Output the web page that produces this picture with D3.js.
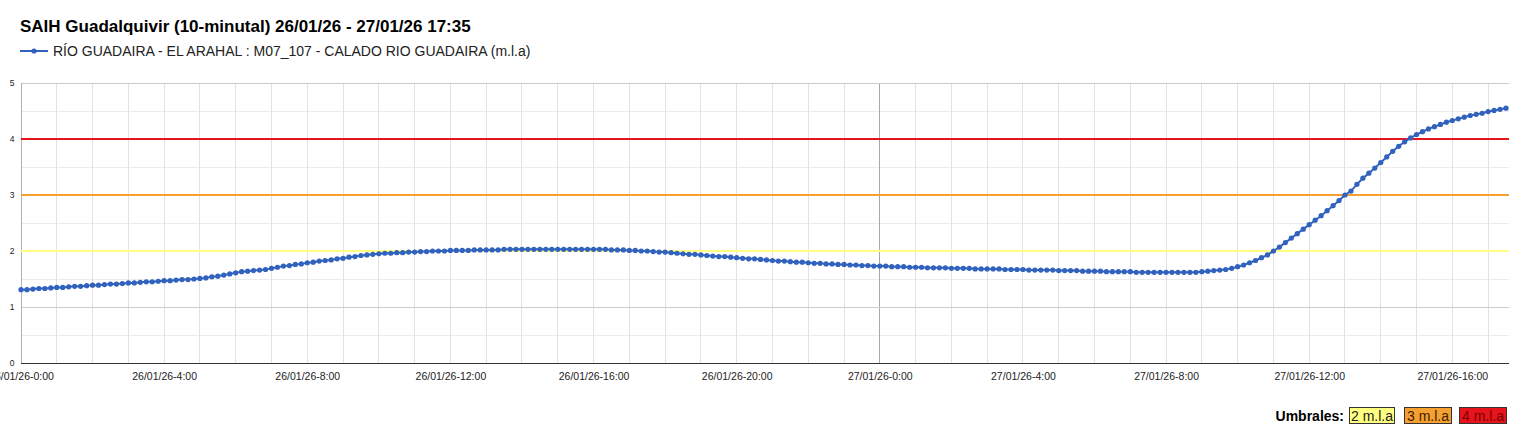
<!DOCTYPE html>
<html>
<head>
<meta charset="utf-8">
<script src="https://cdn.jsdelivr.net/npm/d3@7"></script>
<style>
  html, body { margin: 0; padding: 0; background: #fff; }
  svg { display: block; font-family: Arial, "Liberation Sans", sans-serif; }
</style>
</head>
<body>
<svg id="chart" width="1518" height="437"></svg>
<script>
// ---------------- DATA ----------------
const titleText = "SAIH Guadalquivir (10-minutal) 26/01/26 - 27/01/26 17:35";
const seriesName = "RÍO GUADAIRA - EL ARAHAL : M07_107 - CALADO RIO GUADAIRA (m.l.a)";
const startTime = "2026-01-26T00:00";
const endTime = "2026-01-27T17:35";
const stepMinutes = 10;
// water level (m.l.a), one value every 10 minutes from 26/01/26 0:00
const levels = [
  1.31,1.31,1.32,1.33,1.33,1.34,   // 0h
  1.35,1.35,1.36,1.37,1.37,1.38,   // 1h
  1.39,1.39,1.40,1.41,1.41,1.42,   // 2h
  1.43,1.43,1.44,1.45,1.45,1.46,   // 3h
  1.47,1.47,1.48,1.49,1.49,1.50,   // 4h
  1.51,1.52,1.54,1.55,1.57,1.59,   // 5h
  1.61,1.63,1.64,1.65,1.66,1.67,   // 6h
  1.69,1.71,1.73,1.74,1.76,1.77,   // 7h
  1.79,1.80,1.82,1.83,1.84,1.86,   // 8h
  1.87,1.89,1.90,1.92,1.93,1.94,   // 9h
  1.95,1.96,1.96,1.97,1.97,1.98,   // 10h
  1.98,1.99,1.99,2.00,2.00,2.00,   // 11h
  2.01,2.01,2.01,2.01,2.02,2.02,   // 12h
  2.02,2.02,2.02,2.03,2.03,2.03,   // 13h
  2.03,2.03,2.03,2.03,2.03,2.03,   // 14h
  2.03,2.03,2.03,2.03,2.03,2.03,   // 15h
  2.03,2.03,2.03,2.02,2.02,2.02,   // 16h
  2.01,2.01,2.00,2.00,1.99,1.98,   // 17h
  1.98,1.97,1.96,1.95,1.94,1.94,   // 18h
  1.93,1.92,1.91,1.90,1.90,1.89,   // 19h
  1.88,1.87,1.86,1.86,1.85,1.84,   // 20h
  1.83,1.82,1.82,1.81,1.80,1.80,   // 21h
  1.79,1.78,1.78,1.77,1.77,1.76,   // 22h
  1.76,1.75,1.75,1.74,1.74,1.73,   // 23h
  1.73,1.73,1.72,1.72,1.72,1.71,   // 27/01 0h
  1.71,1.71,1.70,1.70,1.70,1.70,   // 1h
  1.69,1.69,1.69,1.69,1.68,1.68,   // 2h
  1.68,1.68,1.68,1.67,1.67,1.67,   // 3h
  1.67,1.66,1.66,1.66,1.66,1.66,   // 4h
  1.65,1.65,1.65,1.65,1.64,1.64,   // 5h
  1.64,1.64,1.63,1.63,1.63,1.63,   // 6h
  1.63,1.62,1.62,1.62,1.62,1.62,   // 7h
  1.62,1.62,1.62,1.62,1.62,1.62,   // 8h
  1.63,1.64,1.65,1.66,1.67,1.69,   // 9h
  1.72,1.75,1.79,1.83,1.88,1.93,   // 10h
  2.00,2.07,2.15,2.23,2.31,2.39,   // 11h
  2.47,2.55,2.63,2.72,2.81,2.90,   // 12h
  3.00,3.07,3.19,3.30,3.39,3.48,   // 13h
  3.58,3.68,3.78,3.87,3.95,4.02,   // 14h
  4.08,4.13,4.18,4.22,4.26,4.30,   // 15h
  4.33,4.36,4.39,4.42,4.44,4.46,   // 16h
  4.49,4.51,4.53,4.55              // 17h
];
const yTicks = [0, 1, 2, 3, 4, 5];
const xTickTimes = ["2026-01-26T00:00","2026-01-26T04:00","2026-01-26T08:00","2026-01-26T12:00","2026-01-26T16:00","2026-01-26T20:00","2026-01-27T00:00","2026-01-27T04:00","2026-01-27T08:00","2026-01-27T12:00","2026-01-27T16:00"];
const xTickLabels = ["26/01/26-0:00","26/01/26-4:00","26/01/26-8:00","26/01/26-12:00","26/01/26-16:00","26/01/26-20:00","27/01/26-0:00","27/01/26-4:00","27/01/26-8:00","27/01/26-12:00","27/01/26-16:00"];
const thresholdValues = [2, 3, 4];
const thresholdLabels = ["2 m.l.a", "3 m.l.a", "4 m.l.a"];
const thresholdColors = ["#ffff80", "#f5a030", "#e8141c"];
const thresholdTextColors = ["#222", "#402000", "#7a0000"];

// ---------------- CHART ----------------
const svg = d3.select("#chart");
const M = { left: 21, right: 1509, top: 83, bottom: 363 };
const parse = s => new Date(s);
const t0 = parse(startTime);
const data = levels.map((v, i) => ({ t: new Date(t0.getTime() + i * stepMinutes * 60000), v }));

const x = d3.scaleTime().domain([t0, parse(endTime)]).range([M.left, M.right]);
const y = d3.scaleLinear().domain([0, 5]).range([M.bottom, M.top]);

// minor horizontal grid
const g = svg.append("g");
g.selectAll("line.hminor").data(d3.range(0.5, 5, 1)).join("line")
  .attr("x1", M.left).attr("x2", M.right)
  .attr("y1", d => y(d)).attr("y2", d => y(d))
  .attr("stroke", "#ebebeb").attr("stroke-width", 1).attr("shape-rendering", "crispEdges");
// hourly vertical grid
const hours = d3.timeHour.range(t0, parse(endTime));
g.selectAll("line.v").data(hours.slice(1)).join("line")
  .attr("x1", d => x(d)).attr("x2", d => x(d))
  .attr("y1", M.top).attr("y2", M.bottom)
  .attr("stroke", d => (d.getHours() === 0 ? "#a8a8a8" : "#e2e2e2"))
  .attr("stroke-width", 1).attr("shape-rendering", "crispEdges");
// major horizontal grid
g.selectAll("line.hmajor").data(yTicks.slice(1)).join("line")
  .attr("x1", M.left).attr("x2", M.right)
  .attr("y1", d => y(d)).attr("y2", d => y(d))
  .attr("stroke", "#cccccc").attr("stroke-width", 1).attr("shape-rendering", "crispEdges");
// left edge
g.append("line").attr("x1", M.left).attr("x2", M.left).attr("y1", M.top).attr("y2", M.bottom)
  .attr("stroke", "#b0b0b0").attr("shape-rendering", "crispEdges");

// threshold lines
svg.append("g").selectAll("line").data(thresholdValues).join("line")
  .attr("x1", M.left).attr("x2", M.right)
  .attr("y1", d => y(d)).attr("y2", d => y(d))
  .attr("stroke", (d, i) => thresholdColors[i]).attr("stroke-width", 2);

// baseline
svg.append("line").attr("x1", M.left).attr("x2", M.right).attr("y1", y(0)).attr("y2", y(0))
  .attr("stroke", "#333").attr("stroke-width", 1).attr("shape-rendering", "crispEdges");

// y axis labels
const yAxis = d3.axisLeft(y).tickValues(yTicks).tickSize(0).tickPadding(0).tickFormat(d3.format("d"));
const ya = svg.append("g").attr("transform", `translate(${M.left - 9},0)`).call(yAxis);
ya.select(".domain").remove();
ya.selectAll("text").attr("font-size", 8.5).attr("fill", "#222").attr("text-anchor", "middle")
  .attr("font-family", "Arial, 'Liberation Sans', sans-serif");

// x axis labels
const xAxis = d3.axisBottom(x).tickValues(xTickTimes.map(parse)).tickSize(0).tickPadding(10)
  .tickFormat((d, i) => xTickLabels[i]);
const xa = svg.append("g").attr("transform", `translate(0,${M.bottom})`).call(xAxis);
xa.select(".domain").remove();
xa.selectAll("text").attr("font-size", 10.5).attr("fill", "#222")
  .attr("font-family", "Arial, 'Liberation Sans', sans-serif");

// series
const line = d3.line().x(d => x(d.t)).y(d => y(d.v));
svg.append("path").datum(data).attr("d", line)
  .attr("fill", "none").attr("stroke", "#3162bd").attr("stroke-width", 2);
svg.append("g").selectAll("circle").data(data).join("circle")
  .attr("cx", d => x(d.t)).attr("cy", d => y(d.v)).attr("r", 2.6).attr("fill", "#3162bd");

// title
svg.append("text").attr("x", 20).attr("y", 32).text(titleText)
  .attr("font-size", 17).attr("font-weight", "bold").attr("fill", "#000");

// legend
const lg = svg.append("g");
lg.append("line").attr("x1", 20).attr("x2", 48).attr("y1", 51).attr("y2", 51)
  .attr("stroke", "#3162bd").attr("stroke-width", 2);
lg.append("circle").attr("cx", 34).attr("cy", 51).attr("r", 2.6).attr("fill", "#3162bd");
lg.append("text").attr("x", 53).attr("y", 56).text(seriesName)
  .attr("font-size", 14).attr("fill", "#222");

// thresholds legend
const ul = svg.append("g");
ul.append("text").attr("x", 1344).attr("y", 421).attr("text-anchor", "end").text("Umbrales:")
  .attr("font-size", 14).attr("font-weight", "bold").attr("fill", "#000");
const boxX = [1349, 1404, 1459];
const boxW = [45, 47, 47];
thresholdLabels.forEach((lab, i) => {
  ul.append("rect").attr("x", boxX[i] + 0.5).attr("y", 407.5).attr("width", boxW[i]).attr("height", 16)
    .attr("fill", thresholdColors[i]).attr("stroke", "#333").attr("stroke-width", 1);
  ul.append("text").attr("x", boxX[i] + 0.5 + boxW[i] / 2).attr("y", 420.5).attr("text-anchor", "middle")
    .text(lab).attr("font-size", 14).attr("fill", thresholdTextColors[i]);
});
</script>
</body>
</html>
